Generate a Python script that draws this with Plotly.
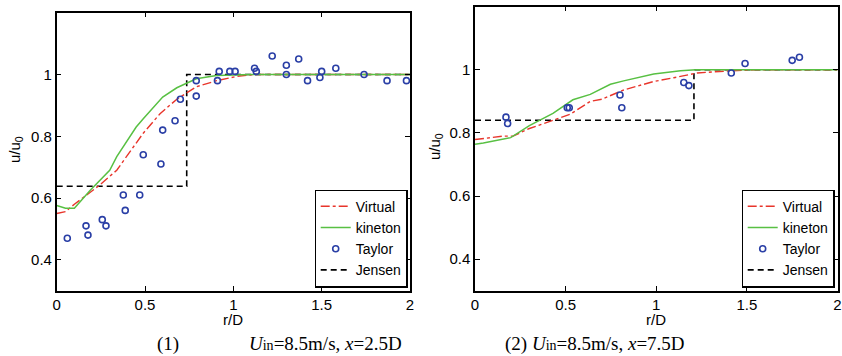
import plotly.graph_objects as go

# ---------------- Data: panel (1) x = 2.5D ----------------
virt1_r = [0.0, 0.05, 0.10, 0.235, 0.34, 0.415, 0.49, 0.585, 0.68, 0.79, 0.905, 1.02, 1.13, 1.5, 2.0]
virt1_u = [0.550, 0.556, 0.58, 0.638, 0.69, 0.75, 0.81, 0.873, 0.92, 0.96, 0.98, 0.994, 1.0, 1.0, 1.0]

kin1_r = [0.0, 0.05, 0.10, 0.19, 0.30, 0.34, 0.45, 0.49, 0.60, 0.68, 0.79, 0.905, 1.1, 1.5, 2.0]
kin1_u = [0.576, 0.567, 0.567, 0.625, 0.69, 0.734, 0.83, 0.857, 0.927, 0.957, 0.986, 0.997, 1.0, 1.0, 1.0]

tay1_r = [0.06, 0.166, 0.177, 0.258, 0.279, 0.377, 0.388, 0.47, 0.49, 0.59, 0.60, 0.67, 0.70,
          0.79, 0.79, 0.91, 0.92, 0.98, 1.01, 1.12, 1.13, 1.22, 1.30, 1.30, 1.37, 1.42,
          1.49, 1.50, 1.58, 1.74, 1.87, 1.98]
tay1_u = [0.47, 0.51, 0.48, 0.53, 0.51, 0.61, 0.56, 0.61, 0.74, 0.71, 0.82, 0.85, 0.92,
          0.98, 0.93, 0.98, 1.01, 1.01, 1.01, 1.02, 1.01, 1.06, 1.03, 1.00, 1.05, 0.98,
          0.99, 1.01, 1.02, 1.00, 0.98, 0.98]

jen1_r = [0.0, 0.736, 0.736, 2.0]
jen1_u = [0.638, 0.638, 1.0, 1.0]

# ---------------- Data: panel (2) x = 7.5D ----------------
virt2_r = [0.0, 0.157, 0.21, 0.30, 0.43, 0.525, 0.636, 0.70, 0.82, 0.986, 1.097, 1.226, 1.41, 1.55, 2.0]
virt2_u = [0.779, 0.79, 0.79, 0.814, 0.84, 0.859, 0.90, 0.907, 0.936, 0.963, 0.975, 0.99, 0.997, 1.0, 1.0]

kin2_r = [0.0, 0.046, 0.197, 0.30, 0.43, 0.54, 0.636, 0.747, 0.82, 0.986, 1.134, 1.22, 1.6, 2.0]
kin2_u = [0.764, 0.768, 0.785, 0.823, 0.862, 0.905, 0.922, 0.954, 0.965, 0.987, 0.997, 1.0, 1.0, 1.0]

tay2_r = [0.171, 0.18, 0.509, 0.52, 0.80, 0.81, 1.152, 1.18, 1.414, 1.49, 1.75, 1.79]
tay2_u = [0.85, 0.83, 0.88, 0.88, 0.92, 0.88, 0.96, 0.95, 0.99, 1.02, 1.03, 1.04]

jen2_r = [0.0, 1.208, 1.208, 2.0]
jen2_u = [0.84, 0.84, 1.0, 1.0]

x_ticks = [0, 0.5, 1, 1.5, 2]
x_ticktext = ["0", "0.5", "1", "1.5", "2"]
y_ticks = [0.4, 0.6, 0.8, 1.0]
y_ticktext = ["0.4", "0.6", "0.8", "1"]

RED = "#e8352b"
GREEN = "#58c043"
BLUE = "#2a3fa6"
SANS = "Liberation Sans, Arial, sans-serif"
SERIF = "Liberation Serif, Times New Roman, serif"

fig = go.Figure()

panels = [
    (virt1_r, virt1_u, kin1_r, kin1_u, tay1_r, tay1_u, jen1_r, jen1_u, "x", "y", "legend"),
    (virt2_r, virt2_u, kin2_r, kin2_u, tay2_r, tay2_u, jen2_r, jen2_u, "x2", "y2", "legend2"),
]
for (vr, vu, kr, ku, tr, tu, jr, ju, xa, ya, lg) in panels:
    fig.add_trace(go.Scatter(x=jr, y=ju, mode="lines", name="Jensen", legend=lg, legendrank=4,
                             line=dict(color="black", width=1.6, dash="6px,4px"), xaxis=xa, yaxis=ya))
    fig.add_trace(go.Scatter(x=vr, y=vu, mode="lines", name="Virtual", legend=lg, legendrank=1,
                             line=dict(color=RED, width=1.4, dash="dashdot"), xaxis=xa, yaxis=ya))
    fig.add_trace(go.Scatter(x=kr, y=ku, mode="lines", name="kineton", legend=lg, legendrank=2,
                             line=dict(color=GREEN, width=1.5), xaxis=xa, yaxis=ya))
    fig.add_trace(go.Scatter(x=tr, y=tu, mode="markers", name="Taylor", legend=lg, legendrank=3,
                             marker=dict(symbol="circle-open", size=6, color=BLUE, line=dict(width=1.6, color=BLUE)),
                             xaxis=xa, yaxis=ya))

W, H = 842, 356
ax_common = dict(showline=True, mirror="ticks", linecolor="black", linewidth=1.5,
                 ticks="inside", ticklen=5, tickwidth=1, tickcolor="black",
                 showgrid=False, zeroline=False, automargin=False,
                 tickfont=dict(family=SANS, size=15, color="black"))

legend_common = dict(yanchor="bottom", y=1 - 287.5 / H, xanchor="right",
                     bordercolor="black", borderwidth=1.2, bgcolor="white",
                     font=dict(family=SANS, size=14, color="black"),
                     itemwidth=30, tracegroupgap=0)

fig.update_layout(
    width=W, height=H,
    margin=dict(l=0, r=0, t=0, b=0, autoexpand=False),
    paper_bgcolor="white", plot_bgcolor="white",
    xaxis=dict(domain=[56.7 / W, 410 / W], range=[0, 2], tickvals=x_ticks, ticktext=x_ticktext,
               anchor="y", **ax_common),
    yaxis=dict(domain=[1 - 290.7 / H, 1 - 12.7 / H], range=[0.3, 1.2], tickvals=y_ticks,
               ticktext=y_ticktext, anchor="x", **ax_common),
    xaxis2=dict(domain=[475 / W, 837.5 / W], range=[0, 2], tickvals=x_ticks, ticktext=x_ticktext,
                anchor="y2", **ax_common),
    yaxis2=dict(domain=[1 - 290.7 / H, 1 - 6.7 / H], range=[0.3, 1.2], tickvals=y_ticks,
                ticktext=y_ticktext, anchor="x2", **ax_common),
    legend=dict(x=407.5 / W, **legend_common),
    legend2=dict(x=834.5 / W, **legend_common),
    showlegend=True,
)

CAP = "<i>U</i><span style='font-size:14px'>in</span>=8.5m/s, <i>x</i>="
annos = [
    # axis titles
    dict(x=233 / W, y=1 - 319.5 / H, text="r/D", font=dict(family=SANS, size=15)),
    dict(x=656 / W, y=1 - 319.5 / H, text="r/D", font=dict(family=SANS, size=15)),
    dict(x=15 / W, y=1 - 150 / H, text="u/u<sub>0</sub>", textangle=-90, font=dict(family=SANS, size=15)),
    dict(x=435 / W, y=1 - 147 / H, text="u/u<sub>0</sub>", textangle=-90, font=dict(family=SANS, size=15)),
    # captions
    dict(x=168 / W, y=1 - 343.5 / H, text="(1)", font=dict(family=SERIF, size=19)),
    dict(x=325 / W, y=1 - 343.5 / H, text=CAP + "2.5D", font=dict(family=SERIF, size=19)),
    dict(x=595 / W, y=1 - 343.5 / H, text="(2) " + CAP + "7.5D", font=dict(family=SERIF, size=19)),
]
for a in annos:
    a.update(xref="paper", yref="paper", showarrow=False, xanchor="center", yanchor="middle")
    a["font"]["color"] = "black"
    fig.add_annotation(**a)

fig.write_html("out.html", config={"displayModeBar": False},
               post_script="document.body.style.margin='0';document.body.style.padding='0';"
                           "document.body.style.overflow='hidden';")
